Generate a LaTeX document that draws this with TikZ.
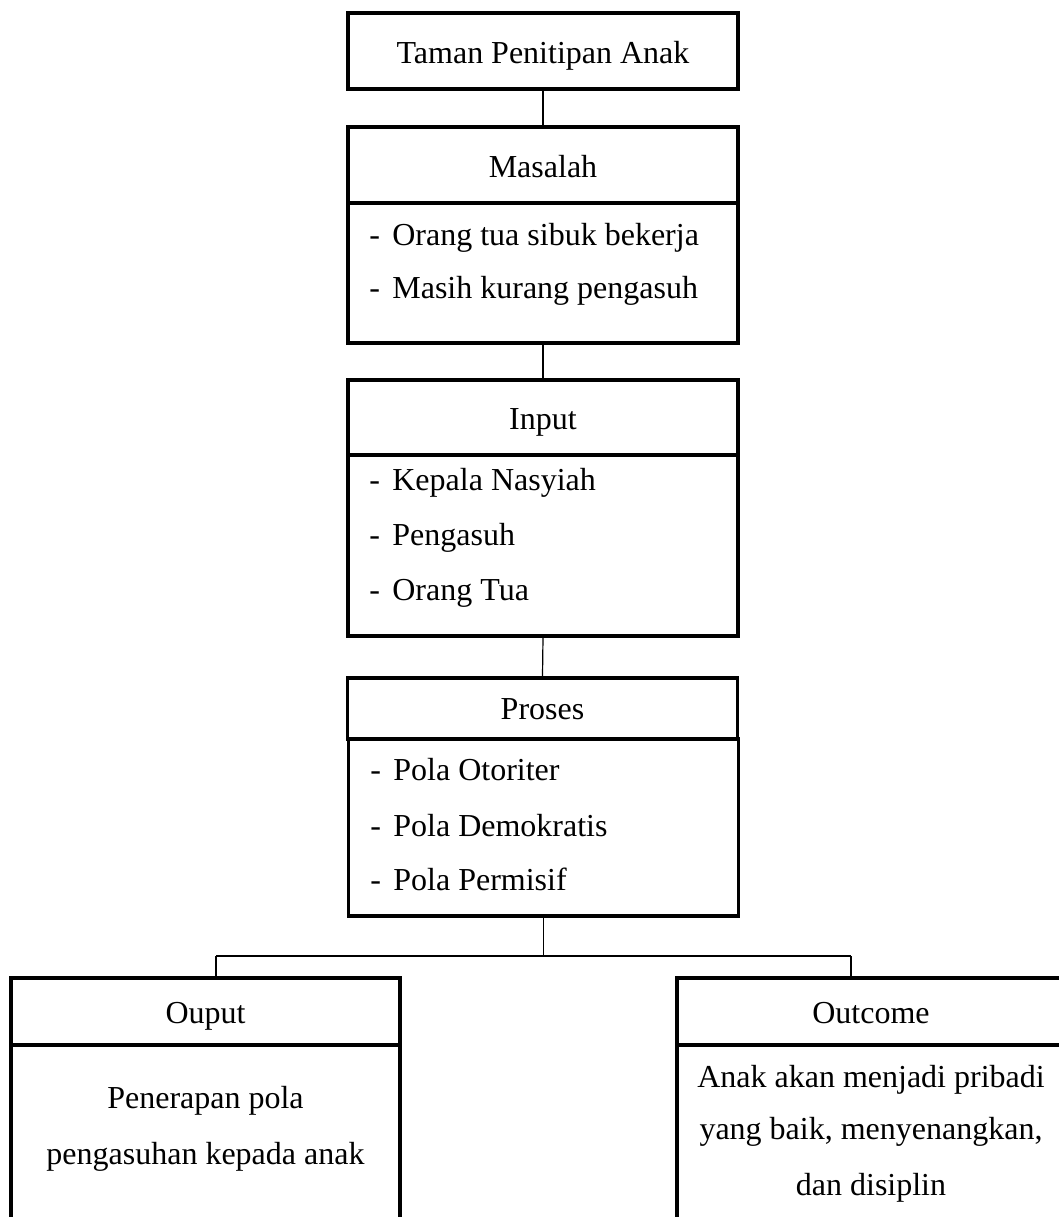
\documentclass[tikz,border=0pt]{standalone}
\usepackage{fontspec}
\setmainfont{Liberation Serif}
\begin{document}
\begin{tikzpicture}[x=0.5pt,y=-0.5pt,
  box/.style={draw, line width=1.6pt, inner sep=0pt, minimum width=195pt},
  wbox/.style={draw, line width=1.6pt, inner sep=0pt, minimum width=195pt},
  txt/.style={font=\fontsize{16}{19}\selectfont, inner sep=0pt, anchor=base},
  item/.style={font=\fontsize{16}{19}\selectfont, inner sep=0pt, anchor=base west},
  link/.style={line width=0.6pt}]
\clip (0,0) rectangle (1059,1217);
\fill[white] (0,0) rectangle (1059,1217);

% boxes
\node[box, minimum height=38pt] (top) at (543,51) {};
\node[box, minimum height=38pt] (masH) at (543,165) {};
\node[box, minimum height=70pt] (masB) at (543,273) {};
\node[box, minimum height=37.5pt] (inH) at (543,417.5) {};
\node[box, minimum height=90.5pt] (inB) at (543,545.5) {};
\node[box, minimum height=30.5pt] (prH) at (542.5,708.5) {};
\node[box, minimum height=88.5pt] (prB) at (543.5,827.5) {};
\node[wbox, minimum width=194.5pt, minimum height=33.5pt] (ouH) at (205.5,1011.5) {};
\node[wbox, minimum width=194.5pt, minimum height=107.5pt] (ouB) at (205.5,1152.5) {};
\node[wbox, minimum width=194pt, minimum height=33.5pt] (ocH) at (871,1011.5) {};
\node[wbox, minimum width=194pt, minimum height=107.5pt] (ocB) at (871,1152.5) {};

% texts
\node[txt] (tTop) at (543,63) {Taman Penitipan Anak};
\node[txt] (tMas) at (543,177) {Masalah};
\node[item] (m1) at (369,245) {\makebox[11.5pt][l]{-}Orang tua sibuk bekerja};
\node[item] (m2) at (369,298) {\makebox[11.5pt][l]{-}Masih kurang pengasuh};
\node[txt] (tIn) at (543,429) {Input};
\node[item] (i1) at (369,490) {\makebox[11.5pt][l]{-}Kepala Nasyiah};
\node[item] (i2) at (369,545) {\makebox[11.5pt][l]{-}Pengasuh};
\node[item] (i3) at (369,600) {\makebox[11.5pt][l]{-}Orang Tua};
\node[txt] (tPr) at (542.5,719) {Proses};
\node[item] (p1) at (370,780) {\makebox[11.5pt][l]{-}Pola Otoriter};
\node[item] (p2) at (370,836) {\makebox[11.5pt][l]{-}Pola Demokratis};
\node[item] (p3) at (370,890) {\makebox[11.5pt][l]{-}Pola Permisif};
\node[txt] (tOu) at (205.5,1023) {Ouput};
\node[txt] (o1) at (205.5,1108) {Penerapan pola};
\node[txt] (o2) at (205.5,1164) {pengasuhan kepada anak};
\node[txt] (tOc) at (871,1023) {Outcome};
\node[txt] (c1) at (871,1087) {Anak akan menjadi pribadi};
\node[txt] (c2) at (871,1139) {yang baik, menyenangkan,};
\node[txt] (c3) at (871,1195) {dan disiplin};

% connectors
\draw[link] (top.south) -- (masH.north);
\draw[link] (masB.south) -- (inH.north);
\draw[link] (inB.south) -- (prH.north);
\coordinate (jl) at (216,956);
\coordinate (jr) at (851,956);
\draw[link] (prB.south) -- (prB.south |- jl);
\draw[link] (jl) -- (jr);
\draw[link] (jl) -- (jl |- ouH.north);
\draw[link] (jr) -- (jr |- ocH.north);
\end{tikzpicture}
\end{document}
